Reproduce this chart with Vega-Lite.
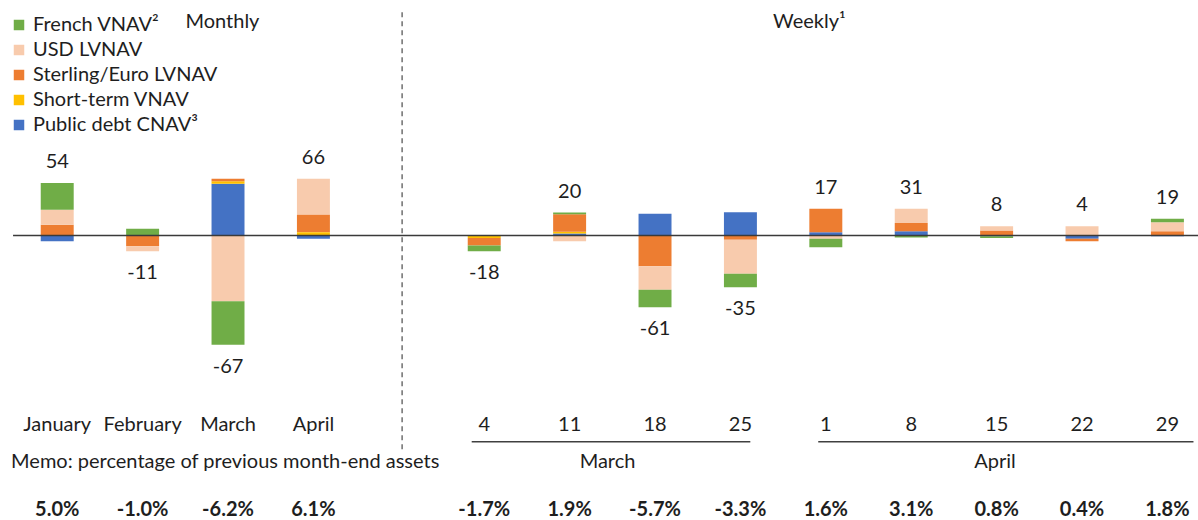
{
  "$schema": "https://vega.github.io/schema/vega-lite/v6.json",
  "width": 1198,
  "height": 520,
  "autosize": {"type": "none"},
  "padding": 0,
  "background": "white",
  "config": {"view": {"stroke": null}, "text": {"font": "Lato", "fontSize": 20, "color": "#1e1e1e"}},
  "datasets": {
    "flows": [
      {"cat": "January", "series": "Public debt CNAV³", "value": -7},
      {"cat": "January", "series": "Sterling/Euro LVNAV", "value": 13},
      {"cat": "January", "series": "USD LVNAV", "value": 18},
      {"cat": "January", "series": "French VNAV²", "value": 32},
      {"cat": "February", "series": "French VNAV²", "value": 8},
      {"cat": "February", "series": "Sterling/Euro LVNAV", "value": -13},
      {"cat": "February", "series": "USD LVNAV", "value": -6},
      {"cat": "March", "series": "Public debt CNAV³", "value": 62},
      {"cat": "March", "series": "Short-term VNAV", "value": 3},
      {"cat": "March", "series": "Sterling/Euro LVNAV", "value": 3},
      {"cat": "March", "series": "USD LVNAV", "value": -79},
      {"cat": "March", "series": "French VNAV²", "value": -52},
      {"cat": "April", "series": "USD LVNAV", "value": 43},
      {"cat": "April", "series": "Sterling/Euro LVNAV", "value": 21},
      {"cat": "April", "series": "Short-term VNAV", "value": 4},
      {"cat": "April", "series": "Public debt CNAV³", "value": -4},
      {"cat": "4", "series": "Short-term VNAV", "value": -3},
      {"cat": "4", "series": "Sterling/Euro LVNAV", "value": -9},
      {"cat": "4", "series": "French VNAV²", "value": -7},
      {"cat": "11", "series": "Public debt CNAV³", "value": 2.5},
      {"cat": "11", "series": "Short-term VNAV", "value": 2},
      {"cat": "11", "series": "Sterling/Euro LVNAV", "value": 21},
      {"cat": "11", "series": "French VNAV²", "value": 2},
      {"cat": "11", "series": "USD LVNAV", "value": -7},
      {"cat": "18", "series": "Public debt CNAV³", "value": 26},
      {"cat": "18", "series": "Sterling/Euro LVNAV", "value": -37},
      {"cat": "18", "series": "USD LVNAV", "value": -28},
      {"cat": "18", "series": "French VNAV²", "value": -21},
      {"cat": "25", "series": "Public debt CNAV³", "value": 28},
      {"cat": "25", "series": "Sterling/Euro LVNAV", "value": -5},
      {"cat": "25", "series": "USD LVNAV", "value": -41},
      {"cat": "25", "series": "French VNAV²", "value": -16},
      {"cat": "1", "series": "Public debt CNAV³", "value": 4},
      {"cat": "1", "series": "Sterling/Euro LVNAV", "value": 28},
      {"cat": "1", "series": "USD LVNAV", "value": -4},
      {"cat": "1", "series": "French VNAV²", "value": -10},
      {"cat": "8", "series": "Public debt CNAV³", "value": 5},
      {"cat": "8", "series": "Sterling/Euro LVNAV", "value": 10},
      {"cat": "8", "series": "USD LVNAV", "value": 17},
      {"cat": "8", "series": "French VNAV²", "value": -2.5},
      {"cat": "15", "series": "Sterling/Euro LVNAV", "value": 6},
      {"cat": "15", "series": "USD LVNAV", "value": 5},
      {"cat": "15", "series": "Public debt CNAV³", "value": -1},
      {"cat": "15", "series": "French VNAV²", "value": -2},
      {"cat": "22", "series": "USD LVNAV", "value": 11},
      {"cat": "22", "series": "Public debt CNAV³", "value": -4},
      {"cat": "22", "series": "Sterling/Euro LVNAV", "value": -3},
      {"cat": "29", "series": "Sterling/Euro LVNAV", "value": 5},
      {"cat": "29", "series": "USD LVNAV", "value": 11},
      {"cat": "29", "series": "French VNAV²", "value": 4},
      {"cat": "29", "series": "Public debt CNAV³", "value": -1}
    ],
    "seriesOrder": [
      {"series": "Public debt CNAV³", "stackRank": 1},
      {"series": "Short-term VNAV", "stackRank": 2},
      {"series": "Sterling/Euro LVNAV", "stackRank": 3},
      {"series": "USD LVNAV", "stackRank": 4},
      {"series": "French VNAV²", "stackRank": 5}
    ],
    "totals": [
      {"cat": "January", "total": 54, "memo": "5.0%"},
      {"cat": "February", "total": -11, "memo": "-1.0%"},
      {"cat": "March", "total": -67, "memo": "-6.2%"},
      {"cat": "April", "total": 66, "memo": "6.1%"},
      {"cat": "4", "total": -18, "memo": "-1.7%"},
      {"cat": "11", "total": 20, "memo": "1.9%"},
      {"cat": "18", "total": -61, "memo": "-5.7%"},
      {"cat": "25", "total": -35, "memo": "-3.3%"},
      {"cat": "1", "total": 17, "memo": "1.6%"},
      {"cat": "8", "total": 31, "memo": "3.1%"},
      {"cat": "15", "total": 8, "memo": "0.8%"},
      {"cat": "22", "total": 4, "memo": "0.4%"},
      {"cat": "29", "total": 19, "memo": "1.8%"}
    ]
  },
  "layer": [
    {
      "data": {"name": "flows"},
      "transform": [
        {"lookup": "series", "from": {"data": {"name": "seriesOrder"}, "key": "series", "fields": ["stackRank"]}}
      ],
      "mark": {"type": "bar"},
      "encoding": {
        "x": {
          "field": "cat", "type": "nominal", "axis": null,
          "scale": {
            "domain": ["January", "February", "March", "April", "gap", "4", "11", "18", "25", "1", "8", "15", "22", "29"],
            "paddingInner": 0.614, "paddingOuter": 0.321, "align": 0.743
          }
        },
        "y": {
          "field": "value", "type": "quantitative", "axis": null,
          "scale": {"domain": [-341.4, 282.6], "nice": false, "zero": false}
        },
        "order": {"field": "stackRank", "type": "quantitative", "sort": "ascending"},
        "color": {
          "field": "series", "type": "nominal",
          "scale": {
            "domain": ["French VNAV²", "USD LVNAV", "Sterling/Euro LVNAV", "Short-term VNAV", "Public debt CNAV³"],
            "range": ["#70AD47", "#F8CBAD", "#ED7D31", "#FFC000", "#4472C4"]
          },
          "legend": {
            "orient": "none", "legendX": 9, "legendY": 15, "title": null,
            "symbolType": "square", "symbolSize": 110, "symbolStrokeWidth": 0,
            "labelFont": "Lato", "labelFontSize": 20, "labelColor": "#1e1e1e", "labelLimit": 400,
            "rowPadding": 5, "labelOffset": 4, "padding": 0
          }
        }
      }
    },
    {
      "data": {"values": [{}]},
      "mark": {"type": "rule", "color": "#3a3a3a", "strokeWidth": 1.5},
      "encoding": {
        "y": {"datum": 0, "type": "quantitative"},
        "x": {"datum": "January", "bandPosition": -0.84},
        "x2": {"datum": "29", "bandPosition": 1.5}
      }
    },
    {
      "data": {"values": [{}]},
      "mark": {"type": "rule", "color": "#6f6f6f", "strokeWidth": 1.5, "strokeDash": [5, 4]},
      "encoding": {
        "x": {"datum": "gap", "bandPosition": 0.6},
        "y": {"datum": 268, "type": "quantitative"},
        "y2": {"datum": -260}
      }
    },
    {
      "data": {"name": "flows"},
      "transform": [
        {"filter": "datum.value > 0"},
        {"aggregate": [{"op": "sum", "field": "value", "as": "top"}], "groupby": ["cat"]},
        {"lookup": "cat", "from": {"data": {"name": "totals"}, "key": "cat", "fields": ["total"]}},
        {"filter": "datum.total >= 0"}
      ],
      "mark": {"type": "text", "baseline": "middle", "dy": -21},
      "encoding": {
        "x": {"field": "cat", "type": "nominal"},
        "y": {"field": "top", "type": "quantitative"},
        "text": {"field": "total", "type": "nominal"}
      }
    },
    {
      "data": {"name": "flows"},
      "transform": [
        {"filter": "datum.value < 0"},
        {"aggregate": [{"op": "sum", "field": "value", "as": "bottom"}], "groupby": ["cat"]},
        {"lookup": "cat", "from": {"data": {"name": "totals"}, "key": "cat", "fields": ["total"]}},
        {"filter": "datum.total < 0"}
      ],
      "mark": {"type": "text", "baseline": "middle", "dy": 22},
      "encoding": {
        "x": {"field": "cat", "type": "nominal"},
        "y": {"field": "bottom", "type": "quantitative"},
        "text": {"field": "total", "type": "nominal"}
      }
    },
    {
      "data": {"name": "totals"},
      "mark": {"type": "text", "baseline": "middle"},
      "encoding": {
        "x": {"field": "cat", "type": "nominal"},
        "y": {"datum": -227.4, "type": "quantitative"},
        "text": {"field": "cat", "type": "nominal"}
      }
    },
    {
      "data": {"name": "totals"},
      "mark": {"type": "text", "baseline": "middle", "fontWeight": "bold"},
      "encoding": {
        "x": {"field": "cat", "type": "nominal"},
        "y": {"datum": -329.4, "type": "quantitative"},
        "text": {"field": "memo", "type": "nominal"}
      }
    },
    {
      "data": {"values": [{}]},
      "mark": {"type": "text", "baseline": "middle", "align": "left"},
      "encoding": {
        "x": {"datum": "January", "bandPosition": -0.9},
        "y": {"datum": -271.8, "type": "quantitative"},
        "text": {"value": "Memo: percentage of previous month-end assets"}
      }
    },
    {
      "data": {"values": [{}]},
      "mark": {"type": "text", "baseline": "middle"},
      "encoding": {
        "x": {"datum": "11", "bandPosition": 1.65},
        "y": {"datum": -271.8, "type": "quantitative"},
        "text": {"value": "March"}
      }
    },
    {
      "data": {"values": [{}]},
      "mark": {"type": "text", "baseline": "middle"},
      "encoding": {
        "x": {"datum": "15", "bandPosition": 0.45},
        "y": {"datum": -271.8, "type": "quantitative"},
        "text": {"value": "April"}
      }
    },
    {
      "data": {"values": [{}]},
      "mark": {"type": "text", "baseline": "middle"},
      "encoding": {
        "x": {"datum": "March", "bandPosition": 0.33},
        "y": {"datum": 256.2, "type": "quantitative"},
        "text": {"value": "Monthly"}
      }
    },
    {
      "data": {"values": [{}]},
      "mark": {"type": "text", "baseline": "middle"},
      "encoding": {
        "x": {"datum": "1", "bandPosition": 0},
        "y": {"datum": 256.2, "type": "quantitative"},
        "text": {"value": "Weekly¹"}
      }
    },
    {
      "data": {"values": [{}]},
      "mark": {"type": "rule", "color": "#404040", "strokeWidth": 1.5},
      "encoding": {
        "x": {"datum": "4", "bandPosition": 0.12},
        "x2": {"datum": "25", "bandPosition": 0.8},
        "y": {"datum": -247.4, "type": "quantitative"}
      }
    },
    {
      "data": {"values": [{}]},
      "mark": {"type": "rule", "color": "#404040", "strokeWidth": 1.5},
      "encoding": {
        "x": {"datum": "1", "bandPosition": 0.27},
        "x2": {"datum": "29", "bandPosition": 1.29},
        "y": {"datum": -247.4, "type": "quantitative"}
      }
    }
  ]
}
